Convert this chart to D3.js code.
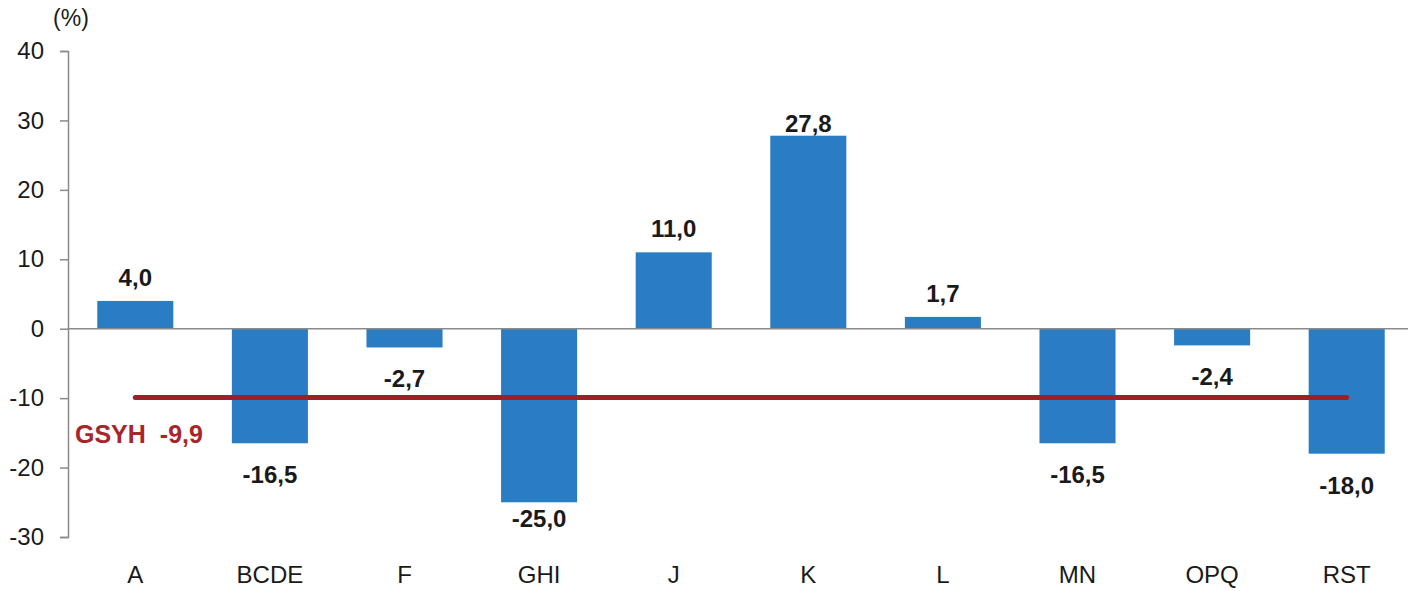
<!DOCTYPE html>
<html>
<head>
<meta charset="utf-8">
<script src="https://cdn.jsdelivr.net/npm/d3@7/dist/d3.min.js"></script>
<style>
    body { margin: 0; background: #fff; }
    svg { display: block; font-family: "Liberation Sans", Arial, sans-serif; }
</style>
</head>
<body>
<div id="chart"></div>
<script>
// chart data
let sectors = ["A", "BCDE", "F", "GHI", "J", "K", "L", "MN", "OPQ", "RST"];
let changes = [4.0, -16.5, -2.7, -25.0, 11.0, 27.8, 1.7, -16.5, -2.4, -18.0];
let gdpLabel = "GSYH";
let gdpValue = -9.9;
let yTicks = [-30, -20, -10, 0, 10, 20, 30, 40];
let unitLabel = "(%)";

// turkish style decimal comma
function fmt(v) {
    return v.toFixed(1).replace(".", ",");
}

let frame = { width: 1415, height: 591 };

let svg = d3.select("#chart").append("svg")
    .attr("width", frame.width)
    .attr("height", frame.height);

let x = d3.scaleBand()
    .domain(sectors)
    .range([68, 1414])
    .paddingInner(0.435)
    .paddingOuter(0.2175);

let y = d3.scaleLinear()
    .domain([-30, 40])
    .range([537, 51]);

// y axis (plain hyphen, not unicode minus)
let yAxis = svg.append("g")
    .attr("transform", "translate(68,0)")
    .call(d3.axisLeft(y)
        .tickValues(yTicks)
        .tickFormat(function (d) { return String(d); })
        .tickSize(8).tickPadding(16).tickSizeOuter(8));
yAxis.select(".domain").attr("stroke", "#8a8a8a").attr("stroke-width", 1.5);
yAxis.selectAll(".tick line").attr("stroke", "#8a8a8a").attr("stroke-width", 1.5);
yAxis.selectAll(".tick text")
    .style("font-size", "24px")
    .attr("fill", "#1a1a1a");

svg.append("text")
    .attr("x", 71)
    .attr("y", 26)
    .attr("text-anchor", "middle")
    .style("font-size", "23px")
    .attr("fill", "#1a1a1a")
    .text(unitLabel);

// bars
svg.append("g").selectAll("rect")
    .data(changes)
    .enter().append("rect")
    .attr("x", function (d, i) { return x(sectors[i]); })
    .attr("width", x.bandwidth())
    .attr("y", function (d) { return y(Math.max(0, d)); })
    .attr("height", function (d) { return Math.abs(y(d) - y(0)); })
    .attr("fill", "#2a7dc3");

// zero line
svg.append("line")
    .attr("x1", 68)
    .attr("x2", 1408)
    .attr("y1", y(0))
    .attr("y2", y(0))
    .attr("stroke", "#8a8a8a")
    .attr("stroke-width", 1.5);

// value labels, kept inside plot area like excel does
svg.append("g").selectAll("text")
    .data(changes)
    .enter().append("text")
    .attr("x", function (d, i) { return x(sectors[i]) + x.bandwidth() / 2; })
    .attr("y", function (d) {
        if (d >= 0) return Math.max(y(d) - 15, 132);
        return Math.min(y(d) + 40, 527);
    })
    .attr("text-anchor", "middle")
    .style("font-size", "24px")
    .style("font-weight", "bold")
    .attr("fill", "#1a1a1a")
    .text(function (d) { return fmt(d); });

// gdp line
let first = sectors[0], last = sectors[sectors.length - 1];
svg.append("line")
    .attr("x1", x(first) + x.bandwidth() / 2)
    .attr("x2", x(last) + x.bandwidth() / 2)
    .attr("y1", y(gdpValue))
    .attr("y2", y(gdpValue))
    .attr("stroke", "#9c2126")
    .attr("stroke-width", 5)
    .attr("stroke-linecap", "round");

let gdpText = svg.append("text")
    .attr("x", 75)
    .attr("y", 443)
    .style("font-size", "25px")
    .style("font-weight", "bold")
    .attr("fill", "#a8262b");
gdpText.append("tspan").text(gdpLabel);
gdpText.append("tspan").attr("dx", 14).text(fmt(gdpValue));

// category labels
svg.append("g").selectAll("text")
    .data(sectors)
    .enter().append("text")
    .attr("x", function (d) { return x(d) + x.bandwidth() / 2; })
    .attr("y", 583)
    .attr("text-anchor", "middle")
    .style("font-size", "24px")
    .attr("fill", "#1a1a1a")
    .text(function (d) { return d; });
</script>
</body>
</html>
